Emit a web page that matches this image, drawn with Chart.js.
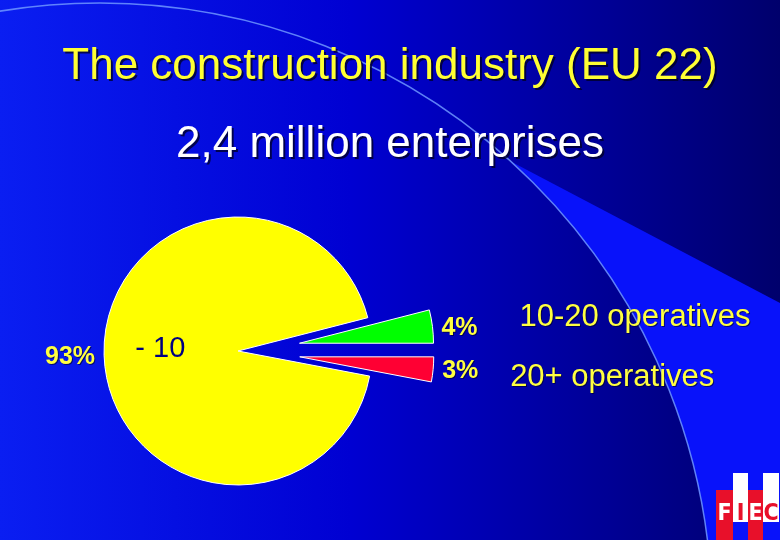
<!DOCTYPE html>
<html lang="en">
<head>
  <meta charset="UTF-8" />
  <title>The construction industry (EU 22)</title>
  <script src="https://cdn.jsdelivr.net/npm/chart.js"></script>
  <style>
    html, body {
      margin: 0;
      padding: 0;
      background: #0000c0;
    }
    .slide {
      position: relative;
      width: 780px;
      height: 540px;
    }
  </style>
</head>
<body>
  <div class="slide">
    <canvas id="enterpriseChart"></canvas>
  </div>

  <script>
    // data
    const categories = ['- 10', '10-20 operatives', '20+ operatives'];
    const shares = [93, 4, 3];
    const sliceColors = ['#ffff00', '#00ff00', '#ff0033'];
    const explode = [0, 62, 62];   // how far each slice is pulled out (px)
    const titleText = 'The construction industry (EU 22)';
    const subtitleText = '2,4 million enterprises';
    const logoLetters = ['F', 'I', 'E', 'C'];

    // slide background: blue gradient, bright swoosh, thin arc, FIEC logo
    const slideBackground = {
      id: 'slideBackground',
      beforeDraw(chart) {
        const ctx = chart.ctx;
        const w = chart.width, h = chart.height;
        ctx.save();
        const g = ctx.createLinearGradient(0, 0, w, 0);
        g.addColorStop(0, '#0a1ef2');
        g.addColorStop(0.45, '#0000d2');
        g.addColorStop(0.75, '#00009a');
        g.addColorStop(1, '#00006c');
        ctx.fillStyle = g;
        ctx.fillRect(0, 0, w, h);

        const cx = 100, cy = 615, R = 612;
        ctx.save();
        ctx.beginPath();
        ctx.moveTo(470, 140);
        ctx.lineTo(w, 303);
        ctx.lineTo(w, h);
        ctx.lineTo(470, h);
        ctx.closePath();
        ctx.clip();
        ctx.beginPath();
        ctx.rect(0, 0, w, h);
        ctx.arc(cx, cy, R, 0, Math.PI * 2, true);
        ctx.clip('evenodd');
        ctx.fillStyle = '#0812fa';
        ctx.fillRect(0, 0, w, h);
        ctx.restore();

        ctx.beginPath();
        ctx.arc(cx, cy, R, 0, Math.PI * 2);
        ctx.strokeStyle = 'rgba(110, 150, 255, 0.85)';
        ctx.lineWidth = 1.5;
        ctx.stroke();

        // FIEC logo
        const cols = [716, 733, 748, 763, 779];
        logoLetters.forEach((letter, i) => {
          const red = i % 2 === 0;
          const x0 = cols[i], x1 = cols[i + 1];
          ctx.fillStyle = red ? '#e8102a' : '#ffffff';
          if (red) ctx.fillRect(x0, 490, x1 - x0, h - 490);
          else ctx.fillRect(x0, 473, x1 - x0, 49);
          ctx.fillStyle = red ? '#ffffff' : '#e8102a';
          ctx.font = 'bold 23px "Liberation Sans Narrow", "DejaVu Sans Condensed", sans-serif';
          ctx.textAlign = 'center';
          ctx.textBaseline = 'alphabetic';
          ctx.fillText(letter, (x0 + x1) / 2, 520);
        });
        ctx.restore();
      }
    };

    // pull slices out along their mid angle
    const explodeSlices = {
      id: 'explodeSlices',
      beforeDatasetDraw(chart, args) {
        const ctx = chart.ctx;
        args.meta.data.forEach((arc, i) => {
          const mid = (arc.startAngle + arc.endAngle) / 2;
          ctx.save();
          ctx.translate(Math.cos(mid) * explode[i], Math.sin(mid) * explode[i]);
          arc.draw(ctx, chart.chartArea);
          ctx.restore();
        });
        return false;
      }
    };

    // titles and slice labels
    const slideText = {
      id: 'slideText',
      afterDraw(chart, args, opts) {
        const ctx = chart.ctx;
        ctx.save();
        ctx.shadowColor = 'rgba(0, 0, 30, 0.75)';
        ctx.shadowOffsetX = 2;
        ctx.shadowOffsetY = 2;
        ctx.textAlign = 'center';
        ctx.textBaseline = 'alphabetic';
        ctx.font = '44px "Liberation Sans", Arial, sans-serif';
        ctx.fillStyle = '#ffff33';
        ctx.fillText(titleText, 390, 79);
        ctx.fillStyle = '#ffffff';
        ctx.fillText(subtitleText, 390, 157);

        const arcs = chart.getDatasetMeta(0).data;
        arcs.forEach((arc, i) => {
          const { x, y, startAngle, endAngle, outerRadius } =
            arc.getProps(['x', 'y', 'startAngle', 'endAngle', 'outerRadius'], true);
          const mid = (startAngle + endAngle) / 2;
          const dx = Math.cos(mid), dy = Math.sin(mid);
          const cx = x + dx * explode[i];
          const cy = y + dy * explode[i];
          const ox = cx + dx * outerRadius;
          const oy = cy + dy * outerRadius;

          // percentage
          ctx.shadowColor = 'rgba(0, 0, 30, 0.6)';
          ctx.shadowOffsetX = 1;
          ctx.shadowOffsetY = 1;
          ctx.font = 'bold 25px "Liberation Sans", Arial, sans-serif';
          ctx.fillStyle = '#ffff40';
          ctx.textBaseline = 'middle';
          ctx.textAlign = dx < 0 ? 'right' : 'left';
          ctx.fillText(shares[i] + '%', ox + (dx < 0 ? -9 : 9), oy + 2);

          // category
          const place = opts.placement[i];
          if (place.inside) {
            ctx.shadowColor = 'transparent';
            ctx.font = '29px "Liberation Sans", Arial, sans-serif';
            ctx.fillStyle = '#000080';
            ctx.textAlign = 'center';
            ctx.fillText(categories[i], cx + dx * outerRadius * place.inside, cy + dy * outerRadius * place.inside + place.dy);
          } else {
            ctx.font = '31px "Liberation Sans", Arial, sans-serif';
            ctx.fillStyle = '#ffff40';
            ctx.textAlign = 'left';
            ctx.fillText(categories[i], ox + place.dx, oy + place.dy);
          }
        });
        ctx.restore();
      }
    };

    new Chart(document.getElementById('enterpriseChart'), {
      type: 'pie',
      data: {
        labels: categories,
        datasets: [{
          data: shares,
          backgroundColor: sliceColors,
          borderColor: '#ffffff',
          borderWidth: 1
        }]
      },
      options: {
        responsive: true,
        maintainAspectRatio: false,
        animation: false,
        rotation: 100.8,
        radius: 134,
        layout: {
          padding: { left: 0, right: 304, top: 162, bottom: 0 }
        },
        plugins: {
          legend: { display: false },
          tooltip: { enabled: false },
          slideText: {
            placement: [
              { inside: 0.58, dy: -4 },
              { dx: 87, dy: -9 },
              { dx: 77, dy: 8 }
            ]
          }
        }
      },
      plugins: [slideBackground, explodeSlices, slideText]
    });
  </script>
</body>
</html>
